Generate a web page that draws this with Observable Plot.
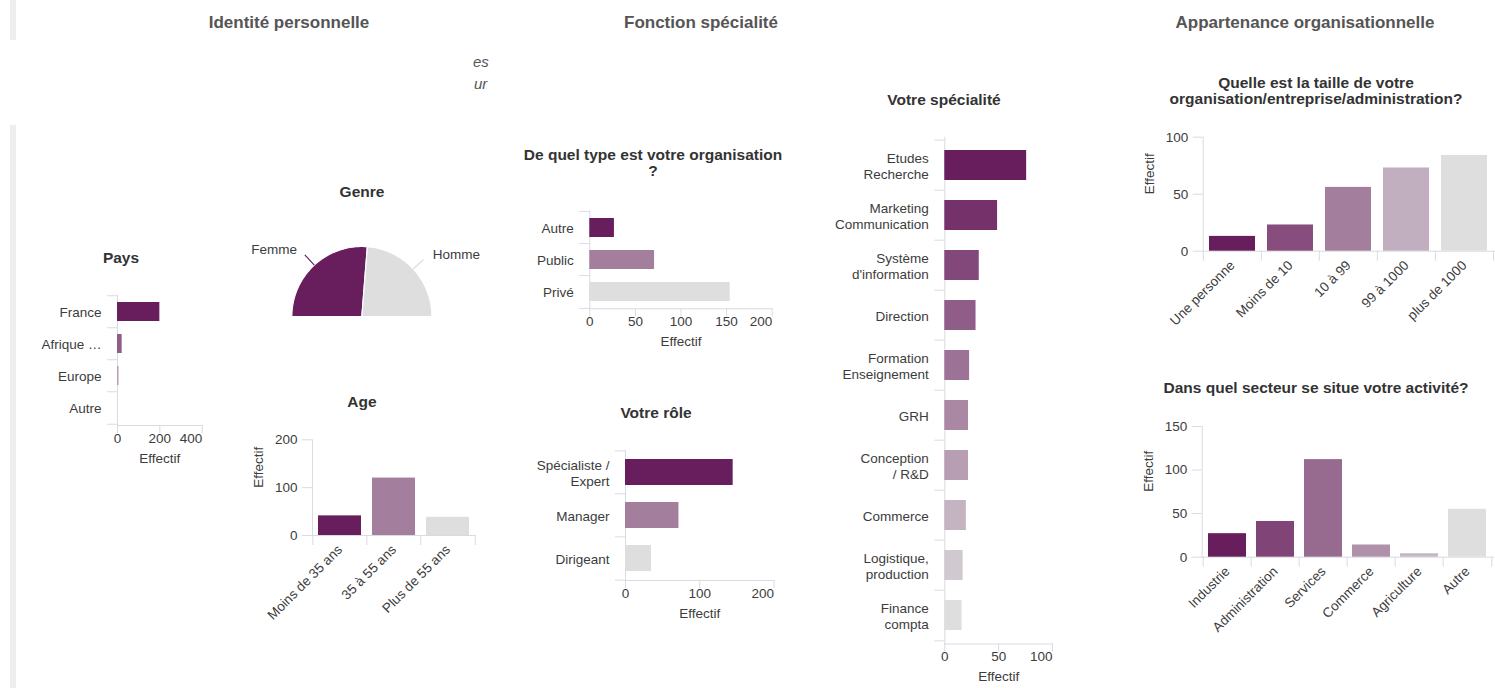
<!DOCTYPE html>
<html><head><meta charset="utf-8">
<script src="https://cdn.jsdelivr.net/npm/d3@7"></script>
<script src="https://cdn.jsdelivr.net/npm/@observablehq/plot@0.6"></script>
<style>
html,body{margin:0;padding:0;background:#fff;}
#root{position:relative;width:1495px;height:688px;overflow:hidden;font-family:"Liberation Sans",Arial,sans-serif;}
.hdr{position:absolute;font-size:17px;font-weight:bold;color:#555;transform:translateX(-50%);white-space:nowrap;line-height:20px;}
.ttl{position:absolute;font-size:15.5px;font-weight:bold;color:#333;transform:translateX(-50%);text-align:center;white-space:pre;line-height:16px;}
.gbar{position:absolute;left:10px;width:6px;background:#eeeeee;}
.frag{position:absolute;font-style:italic;font-size:15px;color:#555;white-space:nowrap;line-height:18px;}
</style></head><body><div id="root"></div><script>
// ---------- data ----------
const headers = ["Identité personnelle", "Fonction spécialité", "Appartenance organisationnelle"];
const fragments = ["es", "ur"];

const paysCats = ["France", "Afrique …", "Europe", "Autre"];
const paysValues = [200, 22, 7, 1];
const paysTicks = [0, 200, 400];

const genreCats = ["Femme", "Homme"];
const genreValues = [105, 95];

const ageCats = ["Moins de 35 ans", "35 à 55 ans", "Plus de 55 ans"];
const ageValues = [41, 120, 38];
const ageTicks = [0, 100, 200];

const orgTypeCats = ["Autre", "Public", "Privé"];
const orgTypeValues = [27, 71, 154];
const orgTypeTicks = [0, 50, 100, 150, 200];

const roleCats = ["Spécialiste /\nExpert", "Manager", "Dirigeant"];
const roleValues = [145, 72, 35];
const roleTicks = [0, 100, 200];

const specCats = ["Etudes\nRecherche", "Marketing\nCommunication", "Système\nd'information", "Direction",
  "Formation\nEnseignement", "GRH", "Conception\n/ R&D", "Commerce", "Logistique,\nproduction", "Finance\ncompta"];
const specValues = [76, 49, 32, 29, 23, 22, 22, 20, 17, 16];
const specTicks = [0, 50, 100];

const tailleCats = ["Une personne", "Moins de 10", "10 à 99", "99 à 1000", "plus de 1000"];
const tailleValues = [13, 23, 56, 73, 84];
const tailleTicks = [0, 50, 100];

const secteurCats = ["Industrie", "Administration", "Services", "Commerce", "Agriculture", "Autre"];
const secteurValues = [27, 41, 112, 14, 4, 55];
const secteurTicks = [0, 50, 100, 150];

const axisTitle = "Effectif";

// ---------- style ----------
const AX = "#d9dbe3";
const TXT = "#3c3c3c";
const FONT = "'Liberation Sans', Arial, sans-serif";
const colorsFor = n => d3.quantize(d3.interpolateRgb("#681d5c", "#dedede"), n);
const baseStyle = {fontFamily: FONT, fontSize: "13.5px", background: "none", overflow: "visible", color: TXT};

const root = document.getElementById("root");
function place(node, left, top) {
  node.style.position = "absolute"; node.style.left = left + "px"; node.style.top = top + "px";
  root.appendChild(node);
}
function addDiv(cls, text, cx, top) {
  const d = document.createElement("div"); d.className = cls;
  d.style.left = cx + "px"; d.style.top = top + "px"; d.textContent = text; root.appendChild(d);
  return d;
}

// ---------- horizontal bars ----------
function hbar(o) {
  const rows = o.cats.map((c, i) => ({cat: c, value: o.values[i]}));
  const n = o.cats.length;
  const step = (o.height - o.mt - o.mb) / n;
  const last = o.ticks[o.ticks.length - 1];
  const svg = Plot.plot({
    width: o.width, height: o.height,
    marginLeft: o.ml, marginRight: o.mr, marginTop: o.mt, marginBottom: o.mb,
    style: baseStyle,
    x: {domain: [0, last], axis: null},
    y: {type: "band", domain: o.cats, paddingInner: 0.4, paddingOuter: 0.2, axis: null},
    color: {type: "ordinal", domain: o.cats, range: colorsFor(n)},
    marks: [
      Plot.frame({anchor: "left", stroke: AX}),
      Plot.frame({anchor: "bottom", stroke: AX}),
      Plot.axisY({ticks: o.cats, tickSize: 10, dy: -step / 2, stroke: AX, tickFormat: () => "", label: null}),
      Plot.axisY({ticks: [o.cats[n - 1]], tickSize: 10, dy: step / 2, stroke: AX, tickFormat: () => "", label: null}),
      Plot.axisX({ticks: o.ticks, tickSize: 8, stroke: AX, tickFormat: () => "", label: null}),
      Plot.barX(rows, {x: "value", y: "cat", fill: "cat"}),
      Plot.text(rows, {y: "cat", text: "cat", frameAnchor: "left", dx: -16, textAnchor: "end", lineHeight: 1.2, fill: TXT}),
      Plot.text(o.ticks.slice(0, -1), {x: d => d, text: d => String(d), frameAnchor: "bottom", dy: 17, fill: TXT}),
      Plot.text([last], {x: d => d, text: d => String(d), frameAnchor: "bottom", dy: 17, textAnchor: "end", fill: TXT}),
      Plot.text([axisTitle], {text: d => d, frameAnchor: "bottom", dy: 37, fill: TXT})
    ]
  });
  place(svg, o.left, o.top);
}

// ---------- vertical bars ----------
function vbar(o) {
  const rows = o.cats.map((c, i) => ({cat: c, value: o.values[i]}));
  const n = o.cats.length;
  const step = (o.width - o.ml - o.mr) / n;
  const last = o.ticks[o.ticks.length - 1];
  const svg = Plot.plot({
    width: o.width, height: o.height,
    marginLeft: o.ml, marginRight: o.mr, marginTop: o.mt, marginBottom: o.mb,
    style: baseStyle,
    x: {type: "band", domain: o.cats, paddingInner: 0.2, paddingOuter: 0.1, axis: null},
    y: {domain: [0, last], axis: null},
    color: {type: "ordinal", domain: o.cats, range: colorsFor(n)},
    marks: [
      Plot.frame({anchor: "left", stroke: AX}),
      Plot.frame({anchor: "bottom", stroke: AX}),
      Plot.axisX({ticks: o.cats, tickSize: 10, dx: -step / 2, stroke: AX, tickFormat: () => "", label: null}),
      Plot.axisX({ticks: [o.cats[n - 1]], tickSize: 10, dx: step / 2, stroke: AX, tickFormat: () => "", label: null}),
      Plot.axisY({ticks: o.ticks, tickSize: 10, tickPadding: 5, stroke: AX, fill: TXT, label: null}),
      Plot.barY(rows, {x: "cat", y: "value", fill: "cat"}),
      Plot.text(rows, {x: "cat", text: "cat", frameAnchor: "bottom", rotate: -45, textAnchor: "end", dy: 15, dx: 3, fill: TXT}),
      Plot.text([axisTitle], {text: d => d, frameAnchor: "left", rotate: -90, dx: -54, fill: TXT})
    ]
  });
  place(svg, o.left, o.top);
}

// ---------- half pie ----------
function halfPie(o) {
  const total = d3.sum(o.values);
  let acc = 0;
  const pts = [], labs = [];
  o.cats.forEach((c, i) => {
    const a0 = Math.PI * (1 - acc / total);
    acc += o.values[i];
    const a1 = Math.PI * (1 - acc / total);
    const steps = 80;
    pts.push({cat: c, x: 0, y: 0});
    for (let k = 0; k <= steps; k++) {
      const a = a0 + (a1 - a0) * k / steps;
      pts.push({cat: c, x: Math.cos(a), y: Math.sin(a)});
    }
    pts.push({cat: c, x: 0, y: 0});
    const am = (a0 + a1) / 2, ca = Math.cos(am), sa = Math.sin(am);
    labs.push({cat: c, left: ca < 0, x1: ca, y1: sa, x2: 1.2 * ca, y2: 1.2 * sa, tx: 1.3 * ca, ty: 1.3 * sa});
  });
  const svg = Plot.plot({
    width: o.width, height: o.height, margin: 0,
    style: baseStyle,
    x: {domain: [-1.876, 1.98], axis: null},
    y: {domain: [-0.2, 1.371], axis: null},
    color: {type: "ordinal", domain: o.cats, range: colorsFor(o.cats.length)},
    marks: [
      Plot.line(pts, {x: "x", y: "y", z: "cat", fill: "cat", stroke: "white", strokeWidth: 1.2}),
      Plot.link(labs, {x1: "x1", y1: "y1", x2: "x2", y2: "y2", stroke: "cat", strokeWidth: 1.2}),
      Plot.text(labs.filter(d => d.left), {x: "tx", y: "ty", text: "cat", textAnchor: "end", dx: -3, fill: TXT}),
      Plot.text(labs.filter(d => !d.left), {x: "tx", y: "ty", text: "cat", textAnchor: "start", dx: 4, fill: TXT})
    ]
  });
  place(svg, o.left, o.top);
}

// ---------- page decorations ----------
[[0, 40], [125, 688]].forEach(([t, b]) => {
  const d = document.createElement("div"); d.className = "gbar";
  d.style.top = t + "px"; d.style.height = (b - t) + "px"; root.appendChild(d);
});
addDiv("hdr", headers[0], 289, 13);
addDiv("hdr", headers[1], 701, 13);
addDiv("hdr", headers[2], 1305, 13);
addDiv("frag", fragments[0], 473, 53);
addDiv("frag", fragments[1], 474, 75);

// ---------- titles ----------
addDiv("ttl", "Pays", 121, 250);
addDiv("ttl", "Genre", 362, 184);
addDiv("ttl", "Age", 362, 394);
addDiv("ttl", "De quel type est votre organisation\n?", 653, 147);
addDiv("ttl", "Votre rôle", 656, 405);
addDiv("ttl", "Votre spécialité", 944, 92);
addDiv("ttl", "Quelle est la taille de votre\norganisation/entreprise/administration?", 1316, 75);
addDiv("ttl", "Dans quel secteur se situe votre activité?", 1316, 380);

// ---------- charts ----------
hbar({cats: paysCats, values: paysValues, ticks: paysTicks,
  left: 20, top: 285, width: 200, height: 195, ml: 97, mr: 18.3, mt: 10, mb: 55});
halfPie({cats: genreCats, values: genreValues, left: 230, top: 220, width: 270, height: 110});
vbar({cats: ageCats, values: ageValues, ticks: ageTicks,
  left: 230, top: 430, width: 260, height: 210, ml: 82, mr: 15, mt: 9.3, mb: 105});
hbar({cats: orgTypeCats, values: orgTypeValues, ticks: orgTypeTicks,
  left: 500, top: 200, width: 290, height: 160, ml: 89.3, mr: 18.3, mt: 10, mb: 51.7});
hbar({cats: roleCats, values: roleValues, ticks: roleTicks,
  left: 500, top: 440, width: 290, height: 190, ml: 125, mr: 16.5, mt: 10, mb: 50});
hbar({cats: specCats, values: specValues, ticks: specTicks,
  left: 820, top: 126, width: 260, height: 562, ml: 124.3, mr: 28, mt: 10.7, mb: 44.5});
vbar({cats: tailleCats, values: tailleValues, ticks: tailleTicks,
  left: 1130, top: 120, width: 365, height: 200, ml: 72.7, mr: 0.7, mt: 16.7, mb: 69.3});
vbar({cats: secteurCats, values: secteurValues, ticks: secteurTicks,
  left: 1130, top: 410, width: 365, height: 250, ml: 71.7, mr: 1.7, mt: 16, mb: 103.3});
</script></body></html>
